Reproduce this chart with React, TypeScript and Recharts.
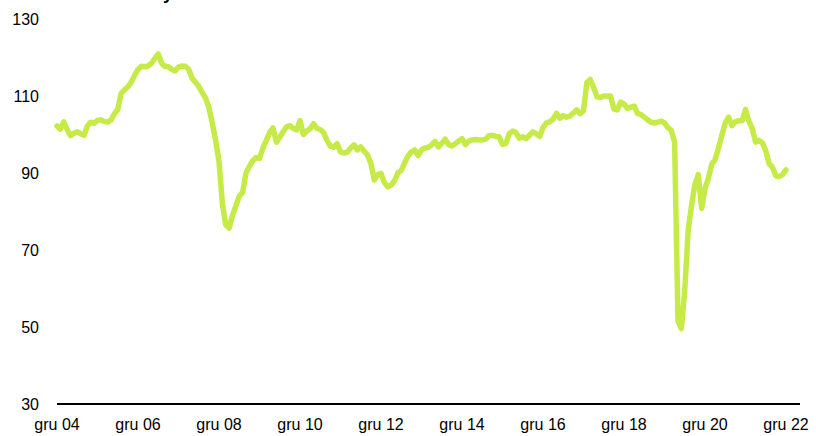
import { LineChart, Line, XAxis, YAxis } from 'recharts'

// miesięczne odczyty, gru 2004 - gru 2022
const y2004 = [102.2]
const y2005 = [101.4, 103.3, 101.3, 99.7, 100.3, 100.7, 100.2, 99.8, 102.2, 103.2, 102.9, 103.7]
const y2006 = [103.8, 103.4, 103.2, 103.8, 105.4, 106.5, 110.7, 111.6, 112.4, 113.6, 115.4, 116.9]
const y2007 = [117.7, 117.6, 117.8, 118.5, 119.8, 120.9, 118.5, 117.7, 117.6, 116.9, 116.5, 117.5]
const y2008 = [117.8, 117.7, 117, 114.6, 113.6, 112.5, 110.9, 109.5, 107, 103, 98.5, 93]
const y2009 = [82, 76.5, 75.7, 79, 81.5, 84, 85, 90, 91.7, 93.2, 94, 93.8]
const y2010 = [96.5, 98.4, 100.5, 101.7, 98, 99.3, 100.7, 102, 102.3, 101.6, 101.2, 103.6]
const y2011 = [100, 100.9, 101.5, 102.8, 101.6, 101.3, 100.5, 98.5, 97, 96.7, 97.6, 95.5]
const y2012 = [95.2, 95.4, 96.5, 97.3, 96, 96.8, 95.6, 94.7, 92.5, 88.2, 89.6, 89.9]
const y2013 = [87.5, 86.4, 86.9, 88, 90, 90.7, 92.6, 94.4, 95.5, 96, 94.5, 96]
const y2014 = [96.5, 96.7, 97.3, 98.2, 96.8, 97.7, 98.8, 97.4, 97, 97.6, 98.3, 98.9]
const y2015 = [97.4, 98.3, 98.6, 98.7, 98.6, 98.6, 98.8, 99.7, 99.8, 99.5, 99.4, 97.4]
const y2016 = [97.7, 100.2, 100.9, 100.5, 99, 99.4, 98.9, 99.8, 100.7, 100.2, 99.5, 101.8]
const y2017 = [103, 103.3, 104, 105.5, 104.2, 104.9, 104.5, 104.8, 105.6, 106.4, 105.4, 106.2]
const y2018 = [113.5, 114.3, 112.2, 109.8, 109.6, 110, 110, 110, 106.6, 106.4, 108.4, 107.9]
const y2019 = [106.8, 107.1, 107.4, 105.5, 105.2, 104.5, 103.8, 103.2, 103, 103.2, 103.5, 103]
const y2020 = [101.8, 101.1, 98, 51.5, 49.6, 59.5, 75, 81.5, 87, 89.6, 80.8, 86]
const y2021 = [88.6, 92.3, 93.5, 96.5, 99.8, 103, 104.5, 102.3, 103.3, 103.6, 103.6, 106.5]
const y2022 = [103.5, 101.5, 98, 98.5, 97.8, 95.8, 92.4, 91.5, 89.3, 89.1, 89.6, 90.8]

const monthNames = ['sty', 'lut', 'mar', 'kwi', 'maj', 'cze', 'lip', 'sie', 'wrz', 'paź', 'lis', 'gru']
const yTicks = [30, 50, 70, 90, 110, 130]

const values = [
    ...y2004, ...y2005, ...y2006, ...y2007, ...y2008, ...y2009, ...y2010,
    ...y2011, ...y2012, ...y2013, ...y2014, ...y2015, ...y2016, ...y2017,
    ...y2018, ...y2019, ...y2020, ...y2021, ...y2022,
]

// start: grudzień 2004
const data = values.map((v, i) => {
    const month = (11 + i) % 12
    const year = 2004 + Math.floor((11 + i) / 12)
    return { label: `${monthNames[month]} ${String(year).slice(2)}`, value: v }
})

const font = 'Arial, "Liberation Sans", Helvetica, sans-serif'

export default function App() {
    return (
        <div style={{ position: 'absolute', left: 0, top: 0, width: 816, height: 436, background: '#fff', overflow: 'hidden', fontFamily: font }}>
            {/* tytuł wychodzi poza górną krawędź, widać tylko ogonek "y" */}
            <div style={{ position: 'absolute', left: 8, top: -16, fontSize: 18, lineHeight: '18px', fontWeight: 700, color: '#000', whiteSpace: 'nowrap' }}>
                Indeks koniunktury
            </div>
            <LineChart width={816} height={436} data={data} margin={{ top: 19, right: 16, bottom: 2, left: 0 }}>
                <XAxis
                    dataKey="label"
                    interval={23}
                    tickLine={false}
                    axisLine={{ stroke: '#000', strokeWidth: 2 }}
                    tick={{ fill: '#000', fontSize: 16, fontFamily: font }}
                    tickMargin={9}
                    padding={{ left: 0, right: 14 }}
                />
                <YAxis
                    width={57}
                    domain={[30, 130]}
                    ticks={yTicks}
                    axisLine={false}
                    tickLine={false}
                    tick={{ fill: '#000', fontSize: 16, fontFamily: font }}
                    tickMargin={12}
                    interval={0}
                />
                <Line
                    type="linear"
                    dataKey="value"
                    stroke="#c6eb48"
                    strokeWidth={5.5}
                    strokeLinejoin="round"
                    strokeLinecap="round"
                    dot={false}
                    activeDot={false}
                    isAnimationActive={false}
                />
            </LineChart>
        </div>
    )
}
